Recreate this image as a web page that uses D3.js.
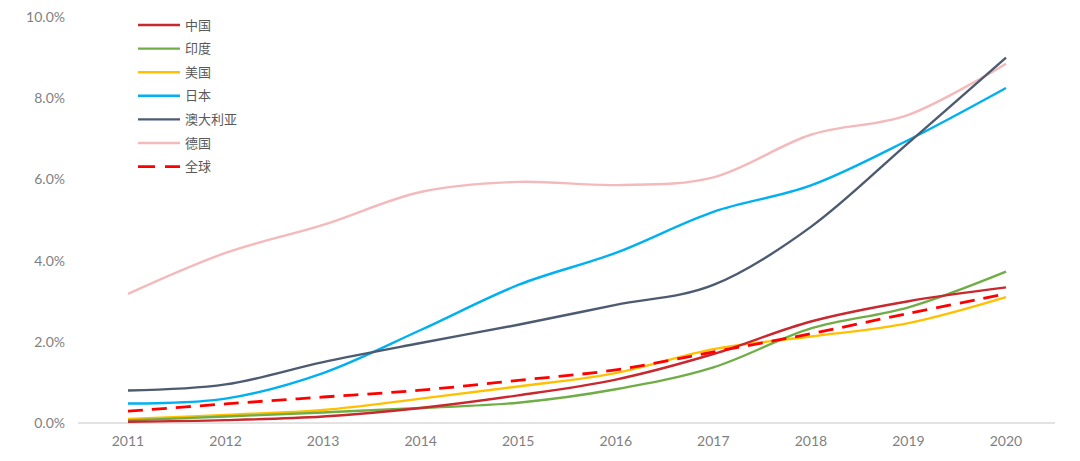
<!DOCTYPE html>
<html>
<head>
<meta charset="utf-8">
<script src="https://cdn.jsdelivr.net/npm/d3@7"></script>
<style>
html,body{margin:0;padding:0;background:#fff;}
svg{display:block;}
</style>
</head>
<body>
<svg id="chart" width="1080" height="461"></svg>
<script>
const years = ["2011","2012","2013","2014","2015","2016","2017","2018","2019","2020"];
const yTicks = [0, 2, 4, 6, 8, 10];
const seriesNames = ["中国","印度","美国","日本","澳大利亚","德国","全球"];
const china     = [0.03, 0.07, 0.16, 0.37, 0.68, 1.07, 1.70, 2.50, 3.00, 3.34];
const india     = [0.06, 0.16, 0.26, 0.37, 0.50, 0.83, 1.37, 2.33, 2.85, 3.73];
const usa       = [0.10, 0.20, 0.32, 0.60, 0.90, 1.23, 1.82, 2.13, 2.46, 3.10];
const japan     = [0.48, 0.60, 1.23, 2.29, 3.40, 4.19, 5.20, 5.85, 6.97, 8.25];
const australia = [0.80, 0.95, 1.50, 1.97, 2.42, 2.91, 3.40, 4.83, 6.90, 9.00];
const germany   = [3.18, 4.19, 4.88, 5.69, 5.94, 5.86, 6.05, 7.10, 7.59, 8.85];
const world     = [0.29, 0.47, 0.64, 0.81, 1.05, 1.31, 1.75, 2.20, 2.70, 3.18];

const seriesValues = [china, india, usa, japan, australia, germany, world];
const colors = ["#C8282E", "#70AD47", "#FFC000", "#00B0F0", "#4D5B70", "#F4B9BB", "#FF0000"];
const dashed = [false, false, false, false, false, false, true];

const svg = d3.select("#chart");
const font = "Lato, 'Noto Sans CJK SC', sans-serif";

const x = d3.scalePoint().domain(years).range([128, 1006]);
const y = d3.scaleLinear().domain([0, 10]).range([423, 17]);

// x axis baseline
svg.append("line")
  .attr("x1", 78).attr("x2", 1055)
  .attr("y1", y(0)).attr("y2", y(0))
  .attr("stroke", "#d9d9d9").attr("stroke-width", 1.5);

// y tick labels
svg.append("g").selectAll("text").data(yTicks).join("text")
  .attr("x", 65).attr("y", d => y(d))
  .attr("dy", "0.35em")
  .attr("text-anchor", "end")
  .attr("font-family", font).attr("font-size", 14)
  .attr("fill", "#7f7f7f")
  .text(d => d.toFixed(1) + "%");

// x tick labels
svg.append("g").selectAll("text").data(years).join("text")
  .attr("x", d => x(d)).attr("y", 441)
  .attr("dy", "0.35em")
  .attr("text-anchor", "middle")
  .attr("font-family", font).attr("font-size", 14)
  .attr("fill", "#7f7f7f")
  .text(d => d);

const line = d3.line()
  .x((d, i) => x(years[i]))
  .y(d => y(d))
  .curve(d3.curveCardinal.tension(0));

// draw order: put global dashed on top
const order = [5, 3, 4, 2, 1, 0, 6];
order.forEach(k => {
  svg.append("path")
    .datum(seriesValues[k])
    .attr("d", line)
    .attr("fill", "none")
    .attr("stroke", colors[k])
    .attr("stroke-width", dashed[k] ? 2.8 : 2.4)
    .attr("stroke-dasharray", dashed[k] ? "15,9" : null)
    .attr("stroke-linecap", "butt");
});

// legend
const lg = svg.append("g");
const rowY = i => 25 + i * 23.6;
seriesNames.forEach((name, i) => {
  lg.append("line")
    .attr("x1", 138).attr("x2", 180)
    .attr("y1", rowY(i)).attr("y2", rowY(i))
    .attr("stroke", colors[i])
    .attr("stroke-width", dashed[i] ? 2.8 : 2.4)
    .attr("stroke-dasharray", dashed[i] ? "17,10" : null);
  lg.append("text")
    .attr("x", 185).attr("y", rowY(i))
    .attr("dy", "0.35em")
    .attr("font-family", font).attr("font-size", 13)
    .attr("fill", "#595959")
    .text(name);
});
</script>
</body>
</html>
